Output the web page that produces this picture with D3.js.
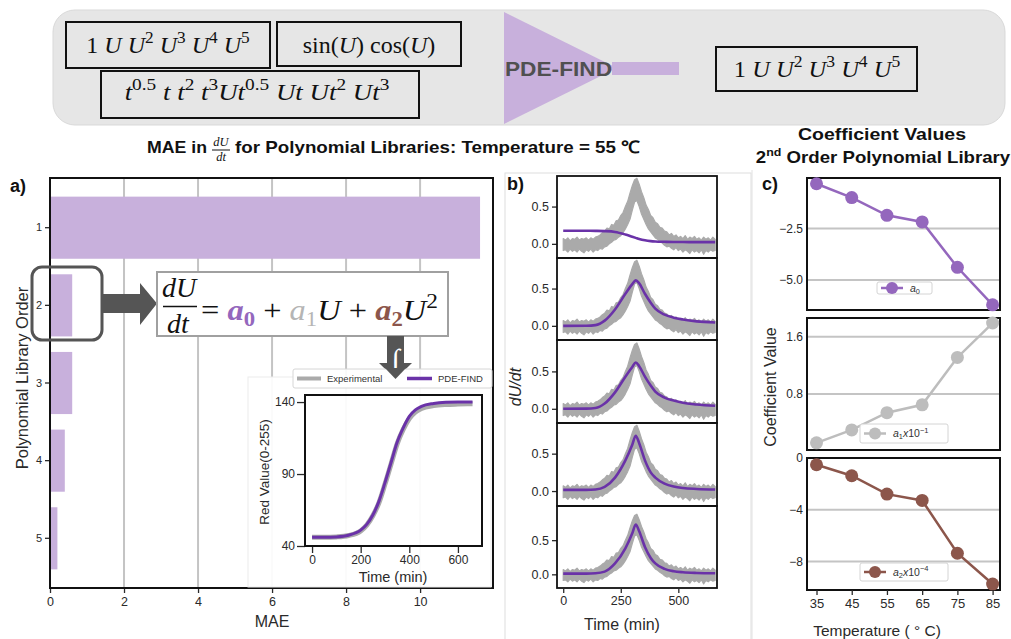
<!DOCTYPE html>
<html>
<head>
<meta charset="utf-8">
<script src="https://cdn.jsdelivr.net/npm/d3@7"></script>
<style>
  body { margin: 0; background: #fff; }
  svg { display: block; }
</style>
</head>
<body>
<svg id="fig" width="1011" height="639"></svg>
<script>
// ---- data ----
const orders = [1, 2, 3, 4, 5];
const maeValues = [11.62, 0.6, 0.6, 0.4, 0.2];
const maeTicks = [0, 2, 4, 6, 8, 10];

// inset: integrated red value
const insetTime = [0, 50, 100, 150, 200, 225, 250, 275, 300, 325, 350, 375, 400, 425, 450, 500, 550, 600, 660];
const insetExperimental = [46, 46, 46.3, 47.3, 50.5, 54.5, 61, 70, 83, 97, 111, 121, 128.5, 133, 135.5, 137.5, 138.3, 138.6, 138.8];
const insetPdeFind = [46, 46, 46.3, 47.5, 51, 55, 61.5, 71, 84, 98, 112, 122, 130, 134.5, 137, 139, 139.8, 140, 140];
const insetYTicks = [40, 90, 140];
const insetXTicks = [0, 200, 400, 600];

// panel b: experimental dU/dt envelope (noisy band), every 10 min
const bandTime = d3.range(0, 661, 10);
const bandUpper = [0.07, 0.05, 0.08, 0.04, 0.07, 0.06, 0.09, 0.05, 0.07, 0.06, 0.08, 0.05, 0.08, 0.06, 0.09, 0.1,
  0.12, 0.15, 0.17, 0.21, 0.2, 0.26, 0.25, 0.31, 0.32, 0.38, 0.42, 0.5, 0.57, 0.68, 0.78, 0.86, 0.88, 0.8, 0.7, 0.62,
  0.52, 0.46, 0.38, 0.35, 0.29, 0.27, 0.22, 0.21, 0.17, 0.16, 0.12, 0.14, 0.1, 0.12, 0.08, 0.1, 0.07, 0.11, 0.06,
  0.09, 0.07, 0.1, 0.06, 0.08, 0.05, 0.09, 0.06, 0.08, 0.05, 0.09, 0.06];
const bandLower = [-0.09, -0.08, -0.11, -0.07, -0.1, -0.08, -0.11, -0.07, -0.1, -0.12, -0.08, -0.1, -0.07, -0.11,
  -0.08, -0.09, -0.06, -0.07, -0.04, -0.03, 0, 0.02, 0.05, 0.06, 0.09, 0.11, 0.15, 0.2, 0.26, 0.33, 0.45, 0.56, 0.58,
  0.5, 0.4, 0.33, 0.26, 0.2, 0.16, 0.12, 0.08, 0.06, 0.03, 0.01, -0.02, -0.04, -0.03, -0.06, -0.08, -0.05, -0.09,
  -0.07, -0.11, -0.08, -0.1, -0.13, -0.08, -0.11, -0.09, -0.12, -0.08, -0.14, -0.09, -0.11, -0.08, -0.1, -0.09];

// panel b: PDE-FIND fits for library orders 1..5
const fitTime = [0, 100, 140, 180, 225, 270, 300, 315, 330, 355, 380, 400, 440, 480, 520, 580, 660];
const fit1 = [0.175, 0.175, 0.174, 0.171, 0.16, 0.125, 0.095, 0.08, 0.065, 0.047, 0.036, 0.031, 0.027, 0.025, 0.024, 0.023, 0.023];
const fit2 = [0, 0.002, 0.01, 0.07, 0.22, 0.43, 0.56, 0.61, 0.57, 0.43, 0.31, 0.23, 0.15, 0.11, 0.085, 0.06, 0.045];
const fit3 = [0, 0.002, 0.01, 0.07, 0.22, 0.43, 0.56, 0.62, 0.57, 0.43, 0.31, 0.23, 0.15, 0.11, 0.08, 0.058, 0.04];
const fit4 = [0.015, 0.015, 0.02, 0.055, 0.18, 0.41, 0.62, 0.74, 0.64, 0.41, 0.25, 0.18, 0.1, 0.06, 0.04, 0.028, 0.02];
const fit5 = [0.01, 0.01, 0.015, 0.04, 0.16, 0.38, 0.6, 0.73, 0.63, 0.4, 0.24, 0.16, 0.08, 0.045, 0.03, 0.02, 0.015];
const bYTicks = [0, 0.5];
const bXTicks = [0, 250, 500];

// panel c: coefficient values vs temperature
const temps = [35, 45, 55, 65, 75, 85];
const a0 = [-0.33, -1.0, -1.86, -2.18, -4.38, -6.2];
const a1 = [0.12, 0.3, 0.54, 0.65, 1.31, 1.79];
const a2 = [-0.52, -1.37, -2.79, -3.28, -7.36, -9.74];
const a0Ticks = [-2.5, -5.0];
const a1Ticks = [0.8, 1.6];
const a2Ticks = [0, -4, -8];

// ---- styles ----
const sans = "'Liberation Sans', Arial, sans-serif";
const serif = "'Liberation Serif', 'DejaVu Serif', serif";
const barPurple = "#c8b0dc";
const fitPurple = "#6a32a8";
const expGray = "#aaaaaa";
const gridGray = "#c4c4c4";
const tickColor = "#2a2a2a";
const coefColors = ["#9467bd", "#bdbdbd", "#8c564b"];

const svg = d3.select("#fig");
svg.append("rect").attr("width", 1011).attr("height", 639).attr("fill", "#fff");

// write math-like text: parts = [text, kind, color, bold]; sx stretches horizontally
function mathText(sel, x, y, size, parts, anchor, sx) {
  const t = sel.append("g")
    .attr("transform", `translate(${x},${y}) scale(${sx || 1},1)`)
    .append("text")
    .attr("font-family", serif)
    .attr("font-size", size)
    .attr("text-anchor", anchor || "start")
    .attr("fill", "#111");
  let shift = 0;
  parts.forEach(([str, kind, color, bold]) => {
    let target = 0, fs = size, style = "italic";
    if (kind === "r") style = "normal";
    if (kind === "sup") { target = -0.42 * size; fs = 0.72 * size; style = "normal"; }
    if (kind === "sub") { target = 0.22 * size; fs = 0.7 * size; style = "normal"; }
    t.append("tspan")
      .text(str)
      .attr("dy", target - shift)
      .attr("font-size", fs)
      .attr("font-style", style)
      .attr("font-weight", bold ? "bold" : "normal")
      .attr("fill", color || "#111");
    shift = target;
  });
  return t;
}

function styleAxis(g, size) {
  g.select(".domain").remove();
  g.selectAll(".tick line").attr("stroke", tickColor).attr("stroke-width", 1.3);
  g.selectAll(".tick text")
    .attr("fill", tickColor)
    .attr("font-family", sans)
    .attr("font-size", size);
}

function frame(sel, x0, y0, x1, y1, w) {
  sel.append("rect")
    .attr("x", x0).attr("y", y0)
    .attr("width", x1 - x0).attr("height", y1 - y0)
    .attr("fill", "none").attr("stroke", "#111").attr("stroke-width", w || 2);
}

const fmtMinus = (d) => (d < 0 ? "\u2212" : "") + Math.abs(d);

// ---- top banner ----
const banner = svg.append("g");
banner.append("rect")
  .attr("x", 53).attr("y", 10).attr("width", 952).attr("height", 115)
  .attr("rx", 22).attr("fill", "#e6e6e6").attr("stroke", "#d9d9d9");

[[66, 22, 270, 68], [277, 22, 461, 66], [101, 71, 419, 118], [716, 47, 917, 91]].forEach(([x0, y0, x1, y1]) =>
  frame(banner, x0, y0, x1, y1, 2));

const polyParts = [["1 ", "r"], ["U ", "i"], ["U", "i"], ["2", "sup"], [" U", "i"], ["3", "sup"],
  [" U", "i"], ["4", "sup"], [" U", "i"], ["5", "sup"]];
mathText(banner, 168, 53, 24, polyParts, "middle", 1.0);
mathText(banner, 369, 53, 24, [["sin(", "r"], ["U", "i"], [") cos(", "r"], ["U", "i"], [")", "r"]], "middle", 1.0);
mathText(banner, 257, 100, 24, [["t", "i"], ["0.5", "sup"], [" t t", "i"], ["2", "sup"], [" t", "i"], ["3", "sup"],
  ["Ut", "i"], ["0.5", "sup"], [" Ut  Ut", "i"], ["2", "sup"], [" Ut", "i"], ["3", "sup"]], "middle", 1.12);
mathText(banner, 817, 77, 24, polyParts, "middle", 1.02);

banner.append("path")
  .attr("d", d3.line()([[504, 12], [617, 68], [504, 124]]) + "Z")
  .attr("fill", barPurple);
banner.append("rect").attr("x", 612).attr("y", 62).attr("width", 67).attr("height", 13).attr("fill", barPurple);
banner.append("text")
  .attr("x", 505).attr("y", 76)
  .attr("font-family", sans).attr("font-weight", "bold").attr("font-size", 20)
  .attr("textLength", 107).attr("lengthAdjust", "spacingAndGlyphs")
  .attr("fill", "#505050")
  .text("PDE-FIND");

// ---- titles ----
const title = svg.append("g").attr("font-family", sans).attr("font-weight", "bold").attr("fill", "#111");
title.append("text").attr("x", 147).attr("y", 153).attr("font-size", 17)
  .attr("textLength", 60).attr("lengthAdjust", "spacingAndGlyphs").text("MAE in");
title.append("text").attr("x", 221).attr("y", 146).attr("font-size", 12.5).attr("text-anchor", "middle")
  .attr("font-family", serif).attr("font-style", "italic").attr("font-weight", "normal").text("dU");
title.append("line").attr("x1", 212).attr("x2", 230).attr("y1", 150).attr("y2", 150).attr("stroke", "#111");
title.append("text").attr("x", 221).attr("y", 161).attr("font-size", 12.5).attr("text-anchor", "middle")
  .attr("font-family", serif).attr("font-style", "italic").attr("font-weight", "normal").text("dt");
title.append("text").attr("x", 235).attr("y", 153).attr("font-size", 17)
  .attr("textLength", 405).attr("lengthAdjust", "spacingAndGlyphs")
  .text("for Polynomial Libraries: Temperature = 55 \u2103");
title.append("text").attr("x", 798).attr("y", 140).attr("font-size", 16.5)
  .attr("textLength", 168).attr("lengthAdjust", "spacingAndGlyphs")
  .text("Coefficient Values");
const t2 = title.append("g").attr("transform", "translate(883,163) scale(1.13,1)")
  .append("text").attr("font-size", 16.5).attr("text-anchor", "middle");
t2.append("tspan").text("2");
t2.append("tspan").text("nd").attr("font-size", 11).attr("dy", -7);
t2.append("tspan").text(" Order Polynomial Library").attr("dy", 7);

// panel letters
[["a)", 10, 192], ["b)", 507, 190], ["c)", 762, 190]].forEach(([s, x, y]) =>
  svg.append("text").attr("x", x).attr("y", y).attr("font-family", sans)
    .attr("font-weight", "bold").attr("font-size", 18).attr("fill", "#111").text(s));

// ---- panel a: MAE bars ----
const pa = { x0: 50, x1: 493, y0: 178, y1: 588 };
const xMae = d3.scaleLinear().domain([0, 11.97]).range([pa.x0, pa.x1]);
const yOrder = d3.scaleBand().domain(orders).range([pa.y0, pa.y1]).paddingInner(0.2).paddingOuter(0.24);
const ga = svg.append("g");

ga.selectAll("line.grid").data(maeTicks.filter((d) => d > 0)).join("line")
  .attr("x1", (d) => xMae(d)).attr("x2", (d) => xMae(d))
  .attr("y1", pa.y0).attr("y2", pa.y1)
  .attr("stroke", gridGray).attr("stroke-width", 2);

ga.selectAll("rect.bar").data(orders).join("rect")
  .attr("x", xMae(0))
  .attr("y", (d) => yOrder(d))
  .attr("width", (d, i) => xMae(maeValues[i]) - xMae(0))
  .attr("height", yOrder.bandwidth())
  .attr("fill", barPurple);

ga.append("g").attr("transform", `translate(0,${pa.y1})`)
  .call(d3.axisBottom(xMae).tickValues(maeTicks).tickSize(5).tickPadding(4))
  .call((g) => styleAxis(g, 12.5));
ga.append("g").attr("transform", `translate(${pa.x0},0)`)
  .call(d3.axisLeft(yOrder).tickSize(5).tickPadding(3))
  .call((g) => styleAxis(g, 11));
frame(ga, pa.x0, pa.y0, pa.x1, pa.y1, 2);

ga.append("text").attr("x", 272).attr("y", 627).attr("text-anchor", "middle")
  .attr("font-family", sans).attr("font-size", 16).attr("fill", tickColor).text("MAE");
ga.append("text").attr("transform", "translate(28,378) rotate(-90)").attr("text-anchor", "middle")
  .attr("font-family", sans).attr("font-size", 16.5).attr("fill", tickColor).text("Polynomial Library Order");

// callout around order 2 + arrow to equation
ga.append("rect").attr("x", 32).attr("y", 267).attr("width", 70).attr("height", 73).attr("rx", 10)
  .attr("fill", "none").attr("stroke", "#555").attr("stroke-width", 3);
ga.append("path")
  .attr("d", d3.line()([[102, 294], [140, 294], [140, 283], [157, 303.5], [140, 325], [140, 313], [102, 313]]) + "Z")
  .attr("fill", "#555");

// equation box
ga.append("rect").attr("x", 157).attr("y", 272).attr("width", 291).attr("height", 64)
  .attr("fill", "#fff").attr("stroke", "#a0a0a0").attr("stroke-width", 2);
mathText(ga, 179, 297, 28, [["dU", "i"]], "middle");
ga.append("line").attr("x1", 163).attr("x2", 197).attr("y1", 306.5).attr("y2", 306.5).attr("stroke", "#111").attr("stroke-width", 1.5);
mathText(ga, 178, 333, 28, [["dt", "i"]], "middle");
mathText(ga, 201, 320, 29, [["= ", "r"], ["a", "i", coefColors[0], true], ["0", "sub", coefColors[0], true],
  [" + ", "r"], ["a", "i", "#b5b5b5"], ["1", "sub", "#b5b5b5"], ["U", "i"], [" + ", "r"],
  ["a", "i", coefColors[2], true], ["2", "sub", coefColors[2], true], ["U", "i"], ["2", "sup"]], "start", 1.12);

// down arrow with integral sign
ga.append("path")
  .attr("d", d3.line()([[387, 336], [404, 336], [404, 363], [412, 363], [395.5, 379], [379, 363], [387, 363]]) + "Z")
  .attr("fill", "#555");
ga.append("text").attr("x", 395.5).attr("y", 370).attr("text-anchor", "middle")
  .attr("font-family", serif).attr("font-size", 30).attr("fill", "#fff").text("\u222B");

// ---- inset: red value vs time ----
const pi = { x0: 305, x1: 482, y0: 395, y1: 546 };
ga.append("rect").attr("x", 248).attr("y", 377).attr("width", 243).attr("height", 210)
  .attr("fill", "#fff").attr("fill-opacity", 0.93).attr("stroke", "#ececec");
const xIn = d3.scaleLinear().domain([-29, 699]).range([pi.x0, pi.x1]);
const yIn = d3.scaleLinear().domain([40, 144.9]).range([pi.y1, pi.y0]);
const lineIn = (vals) => d3.line().x((d, i) => xIn(insetTime[i])).y((d) => yIn(d)).curve(d3.curveMonotoneX)(vals);
ga.append("path").attr("d", lineIn(insetExperimental)).attr("fill", "none").attr("stroke", expGray).attr("stroke-width", 5);
ga.append("path").attr("d", lineIn(insetPdeFind)).attr("fill", "none").attr("stroke", fitPurple).attr("stroke-width", 3);
ga.append("g").attr("transform", `translate(0,${pi.y1})`)
  .call(d3.axisBottom(xIn).tickValues(insetXTicks).tickSize(7).tickPadding(2))
  .call((g) => styleAxis(g, 12));
ga.append("g").attr("transform", `translate(${pi.x0},0)`)
  .call(d3.axisLeft(yIn).tickValues(insetYTicks).tickSize(8).tickPadding(2))
  .call((g) => styleAxis(g, 12));
frame(ga, pi.x0, pi.y0, pi.x1, pi.y1, 2);
ga.append("text").attr("x", 393).attr("y", 582).attr("text-anchor", "middle")
  .attr("font-family", sans).attr("font-size", 14.5).attr("fill", tickColor).text("Time (min)");
ga.append("text").attr("transform", "translate(269,472) rotate(-90)").attr("text-anchor", "middle")
  .attr("font-family", sans).attr("font-size", 13.5).attr("fill", tickColor).text("Red Value(0-255)");

// inset legend
const lg = ga.append("g");
lg.append("rect").attr("x", 293).attr("y", 369).attr("width", 199).attr("height", 19).attr("rx", 2)
  .attr("fill", "#fff").attr("fill-opacity", 0.9).attr("stroke", "#d6d6d6");
lg.append("line").attr("x1", 297).attr("x2", 321).attr("y1", 378.5).attr("y2", 378.5).attr("stroke", expGray).attr("stroke-width", 4);
lg.append("line").attr("x1", 407).attr("x2", 432).attr("y1", 378.5).attr("y2", 378.5).attr("stroke", fitPurple).attr("stroke-width", 3.5);
lg.append("text").attr("x", 327).attr("y", 382).attr("font-family", sans).attr("font-size", 9.5).attr("fill", "#333").text("Experimental");
lg.append("text").attr("x", 438).attr("y", 382).attr("font-family", sans).attr("font-size", 9.5).attr("fill", "#333").text("PDE-FIND");
// arrow tip overlaps the legend
ga.append("path").attr("d", d3.line()([[385, 368], [406, 368], [395.5, 379]]) + "Z").attr("fill", "#555");

// ---- panel b: dU/dt fits ----
svg.append("rect").attr("x", 505).attr("y", 173).attr("width", 246).attr("height", 470)
  .attr("fill", "none").attr("stroke", "#dedede");
const gb = svg.append("g");
const bx0 = 557, bx1 = 717;
const bBounds = [176, 258, 340, 423, 506, 588];
const bDomains = [[-0.19, 0.91], [-0.19, 0.91], [-0.19, 0.92], [-0.2, 0.91], [-0.2, 1.0]];
const fits = [fit1, fit2, fit3, fit4, fit5];
const xB = d3.scaleLinear().domain([-27, 668]).range([bx0, bx1]);

fits.forEach((fit, k) => {
  const top = bBounds[k], bot = bBounds[k + 1];
  const yB = d3.scaleLinear().domain(bDomains[k]).range([bot, top]);
  const clipId = "clipb" + k;
  gb.append("clipPath").attr("id", clipId).append("rect")
    .attr("x", bx0).attr("y", top).attr("width", bx1 - bx0).attr("height", bot - top);
  const g = gb.append("g");
  const inner = g.append("g").attr("clip-path", `url(#${clipId})`);
  inner.append("path")
    .attr("d", d3.area().x((d, i) => xB(bandTime[i])).y0((d, i) => yB(bandLower[i])).y1((d) => yB(d))(bandUpper))
    .attr("fill", expGray).attr("stroke", expGray).attr("stroke-width", 1.2).attr("stroke-linejoin", "round");
  inner.append("path")
    .attr("d", d3.line().x((d, i) => xB(fitTime[i])).y((d) => yB(d)).curve(d3.curveMonotoneX)(fit))
    .attr("fill", "none").attr("stroke", fitPurple).attr("stroke-width", 2.6);
  g.append("g").attr("transform", `translate(${bx0},0)`)
    .call(d3.axisLeft(yB).tickValues(bYTicks).tickFormat(d3.format(".1f")).tickSize(5).tickPadding(3))
    .call((ax) => styleAxis(ax, 12.5));
  frame(g, bx0, top, bx1, bot, 1.8);
});
gb.append("g").attr("transform", `translate(0,${bBounds[5]})`)
  .call(d3.axisBottom(xB).tickValues(bXTicks).tickSize(5).tickPadding(3))
  .call((g) => styleAxis(g, 12.5));
gb.append("text").attr("x", 622).attr("y", 630).attr("text-anchor", "middle")
  .attr("font-family", sans).attr("font-size", 16).attr("fill", tickColor).text("Time (min)");
gb.append("text").attr("transform", "translate(521,387) rotate(-90)").attr("text-anchor", "middle")
  .attr("font-family", sans).attr("font-style", "italic").attr("font-size", 16).attr("fill", tickColor).text("dU/dt");

// ---- panel c: coefficients ----
svg.append("line").attr("x1", 752).attr("x2", 752).attr("y1", 170).attr("y2", 639).attr("stroke", "#e2e2e2");
const gc = svg.append("g");
const cx0 = 807, cx1 = 1000;
const xC = d3.scaleLinear().domain([32.3, 87.1]).range([cx0, cx1]);
const coefPanels = [
  { vals: a0, ticks: a0Ticks, dom: [-6.45, -0.05], y0: 178, y1: 310, fmt: (d) => fmtMinus(d.toFixed(1) * 1).replace(/^(\u2212?\d)$/, "$1.0"),
    legend: { x: 877, y: 282, w: 55, h: 12 }, label: [["a", "i"], ["0", "sub"]] },
  { vals: a1, ticks: a1Ticks, dom: [0.02, 1.86], y0: 318, y1: 450, fmt: (d) => d.toFixed(1),
    legend: { x: 860, y: 424, w: 88, h: 19 }, label: [["a", "i"], ["1", "sub"], ["x", "i"], ["10", "r"], ["\u22121", "sup"]] },
  { vals: a2, ticks: a2Ticks, dom: [-10.2, 0], y0: 458, y1: 590, fmt: fmtMinus,
    legend: { x: 860, y: 563, w: 88, h: 18 }, label: [["a", "i"], ["2", "sub"], ["x", "i"], ["10", "r"], ["\u22124", "sup"]] },
];

coefPanels.forEach((p, k) => {
  const yC = d3.scaleLinear().domain(p.dom).range([p.y1, p.y0]);
  const g = gc.append("g");
  g.selectAll("line.grid").data(p.ticks).join("line")
    .attr("x1", cx0).attr("x2", cx1)
    .attr("y1", (d) => yC(d)).attr("y2", (d) => yC(d))
    .attr("stroke", gridGray).attr("stroke-width", 2);
  g.append("g").attr("transform", `translate(${cx0},0)`)
    .call(d3.axisLeft(yC).tickValues(p.ticks).tickFormat(p.fmt).tickSize(0).tickPadding(4))
    .call((ax) => styleAxis(ax, 12));
  frame(g, cx0, p.y0, cx1, p.y1, 2);
  g.append("path")
    .attr("d", d3.line().x((d, i) => xC(temps[i])).y((d) => yC(d))(p.vals))
    .attr("fill", "none").attr("stroke", coefColors[k]).attr("stroke-width", 2.5);
  g.selectAll("circle").data(p.vals).join("circle")
    .attr("cx", (d, i) => xC(temps[i])).attr("cy", (d) => yC(d)).attr("r", 6.5)
    .attr("fill", coefColors[k]);

  const L = p.legend;
  g.append("rect").attr("x", L.x).attr("y", L.y).attr("width", L.w).attr("height", L.h).attr("rx", 2)
    .attr("fill", "#fff").attr("fill-opacity", 0.9).attr("stroke", "#d4d4d4");
  const ly = L.y + L.h / 2;
  g.append("line").attr("x1", L.x + 4).attr("x2", L.x + 26).attr("y1", ly).attr("y2", ly)
    .attr("stroke", coefColors[k]).attr("stroke-width", 2.5);
  g.append("circle").attr("cx", L.x + 15).attr("cy", ly).attr("r", 6).attr("fill", coefColors[k]);
  mathText(g, L.x + 33, ly + 3.5, 10.5, p.label).attr("fill", "#333").selectAll("tspan").attr("fill", "#333")
    .attr("font-family", sans);
});
gc.append("g").attr("transform", `translate(0,590)`)
  .call(d3.axisBottom(xC).tickValues(temps).tickSize(5).tickPadding(4))
  .call((g) => styleAxis(g, 13));
gc.append("text").attr("x", 877).attr("y", 636).attr("text-anchor", "middle")
  .attr("font-family", sans).attr("font-size", 15.5).attr("fill", tickColor).text("Temperature ( \u00B0 C)");
gc.append("text").attr("transform", "translate(776,387) rotate(-90)").attr("text-anchor", "middle")
  .attr("font-family", sans).attr("font-size", 16).attr("fill", tickColor).text("Coefficient Value");
</script>
</body>
</html>
